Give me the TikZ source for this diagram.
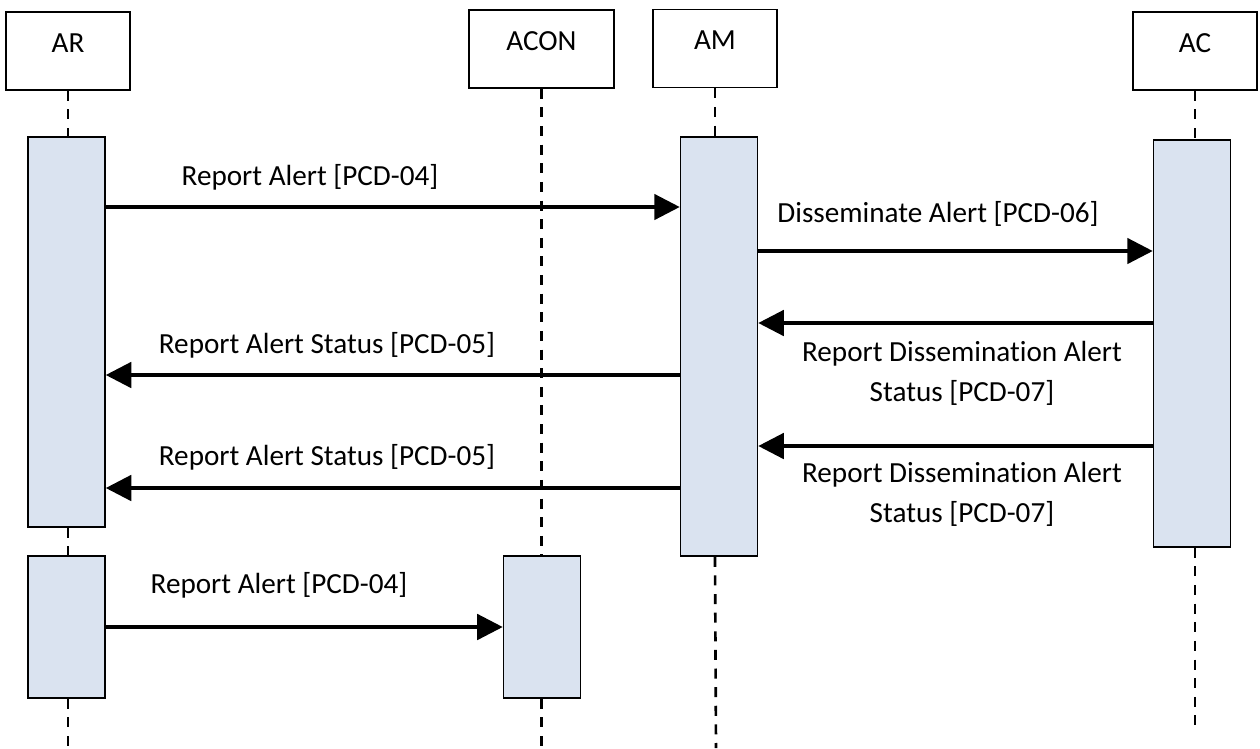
\documentclass[tikz,border=0pt]{standalone}
\usepackage{fontspec}
\setmainfont{Carlito}[Ligatures={NoCommon,NoContextual,NoRare},RawFeature={-liga;-clig;-dlig}]
\usetikzlibrary{arrows.meta}
\definecolor{barblue}{RGB}{218,227,240}
\begin{document}
\begin{tikzpicture}[x=0.02cm, y=-0.02cm, font=\fontsize{16.6pt}{22.7pt}\selectfont,
head node/.style={rectangle,draw,line width=0.9pt,minimum width=2.48cm,minimum height=1.56cm,inner sep=0pt,text height=22.9pt,text depth=21.3pt},
bar node/.style={rectangle,draw,line width=0.9pt,fill=barblue,minimum width=1.54cm,inner sep=0pt},
msg/.style={line width=1.9pt,-{Triangle[length=14.5pt,width=14.5pt]}},
life/.style={line width=1.5pt,dash pattern=on 5.7pt off 4.9pt},
msg label/.style={align=center,inner sep=0pt}]
\useasboundingbox (0,0) rectangle (1260,748);
\begin{scope}
\node[head node] (hAR) at (68,51) {AR};
\node[head node,minimum width=2.9cm] (hACON) at (541.5,49) {ACON};
\node[head node] (hAM) at (715,48.5) {AM};
\node[head node] (hAC) at (1195,51) {AC};
\node[bar node,minimum height=7.8cm] (barAR1) at (66.5,332) {};
\node[bar node,minimum height=2.84cm] (barAR2) at (66.5,627) {};
\node[bar node,minimum height=2.84cm] (barACON) at (542,627) {};
\node[bar node,minimum height=8.38cm] (barAM) at (719,346.5) {};
\node[bar node,minimum height=8.14cm] (barAC) at (1192,343.5) {};
%\node[bar node] () at (,) {};
\end{scope}
\coordinate (endAR) at (68,748);
\coordinate (endACON) at (541.5,748);
\coordinate (endAM) at (716,748);
\coordinate (endAC) at (1195,725);
\begin{scope}
\draw[life] (hAR.south) -- (hAR.south |- barAR1.north);
\draw[life] (hAR.south |- barAR1.south) -- (hAR.south |- barAR2.north);
\draw[life] (hAR.south |- barAR2.south) -- (endAR);
\draw[life] (hACON.south) -- (hACON.south |- barACON.north);
\draw[life] (hACON.south |- barACON.south) -- (endACON);
\draw[life] (hAM.south) -- (hAM.south |- barAM.north);
\draw[life] (hAM.south |- barAM.south) -- (endAM);
\draw[life] (hAC.south) -- (hAC.south |- barAC.north);
\draw[life] (hAC.south |- barAC.south) -- (endAC);
\end{scope}
\coordinate (m1) at (0,207);
\coordinate (m2) at (0,251);
\coordinate (m3) at (0,323);
\coordinate (m4) at (0,375);
\coordinate (m5) at (0,446);
\coordinate (m6) at (0,488);
\coordinate (m7) at (0,627);
\begin{scope}
\draw[msg] (barAR1.east |- m1) -- (barAM.west |- m1);
\draw[msg] (barAM.east |- m2) -- (barAC.west |- m2);
\draw[msg] (barAC.west |- m3) -- (barAM.east |- m3);
\draw[msg] (barAM.west |- m4) -- (barAR1.east |- m4);
\draw[msg] (barAC.west |- m5) -- (barAM.east |- m5);
\draw[msg] (barAM.west |- m6) -- (barAR1.east |- m6);
\draw[msg] (barAR2.east |- m7) -- (barACON.west |- m7);
\end{scope}
\begin{scope}[every node/.style={msg label}]
\node (l1) at (310,177) {Report Alert [PCD-04]};
\node (l2) at (938,214) {Disseminate Alert [PCD-06]};
\node (l3) at (962,373) {Report Dissemination Alert\\Status [PCD-07]};
\node (l4) at (327,345) {Report Alert Status [PCD-05]};
\node (l5) at (962,494) {Report Dissemination Alert\\Status [PCD-07]};
\node (l6) at (327,457) {Report Alert Status [PCD-05]};
\node (l7) at (279,585) {Report Alert [PCD-04]};
\end{scope}
\end{tikzpicture}
\end{document}
